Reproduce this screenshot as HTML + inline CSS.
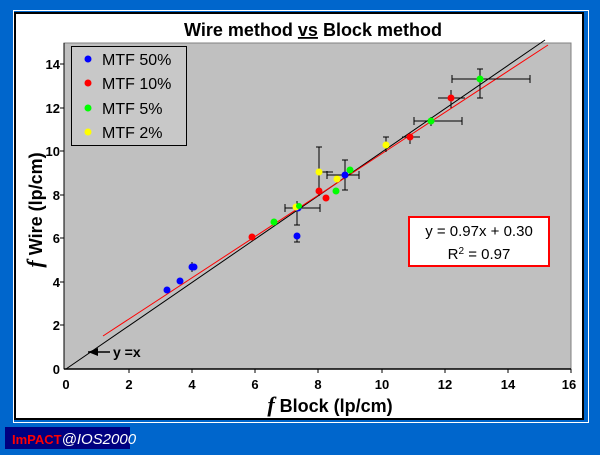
<!DOCTYPE html>
<html><head><style>
body{margin:0;width:600px;height:450px;background:#0066cc;overflow:hidden;font-family:"Liberation Sans",sans-serif}
</style></head><body>
<svg width="600" height="450" xmlns="http://www.w3.org/2000/svg" font-family="Liberation Sans, sans-serif">
<rect x="0" y="0" width="600" height="450" fill="#0066cc"/>
<rect x="13.5" y="10.5" width="575" height="412" fill="none" stroke="#fff" stroke-width="1"/>
<rect x="15" y="13" width="568" height="406" fill="#fff" stroke="#000" stroke-width="2"/>
<text x="313" y="36" text-anchor="middle" font-size="18" font-weight="bold">Wire method  <tspan text-decoration="underline">vs</tspan> Block method</text>
<rect x="64" y="43" width="507" height="326" fill="#c0c0c0" stroke="#808080" stroke-width="1"/>
<line x1="64" y1="369" x2="571" y2="369" stroke="#000" stroke-width="1.5"/>
<line x1="64" y1="43" x2="64" y2="369" stroke="#000" stroke-width="1"/>
<g stroke="#000" stroke-width="1">
<line x1="129" y1="369" x2="129" y2="373"/><line x1="192" y1="369" x2="192" y2="373"/><line x1="255" y1="369" x2="255" y2="373"/><line x1="318" y1="369" x2="318" y2="373"/><line x1="382" y1="369" x2="382" y2="373"/><line x1="445" y1="369" x2="445" y2="373"/><line x1="508" y1="369" x2="508" y2="373"/><line x1="571" y1="369" x2="571" y2="373"/>
<line x1="60" y1="325" x2="64" y2="325"/><line x1="60" y1="282" x2="64" y2="282"/><line x1="60" y1="238" x2="64" y2="238"/><line x1="60" y1="195" x2="64" y2="195"/><line x1="60" y1="151" x2="64" y2="151"/><line x1="60" y1="108" x2="64" y2="108"/><line x1="60" y1="64" x2="64" y2="64"/>
</g>
<g font-size="13" font-weight="bold" text-anchor="middle">
<text x="66" y="389">0</text><text x="129" y="389">2</text><text x="192" y="389">4</text><text x="255" y="389">6</text><text x="318" y="389">8</text><text x="382" y="389">10</text><text x="445" y="389">12</text><text x="508" y="389">14</text><text x="569" y="389">16</text>
</g>
<g font-size="13" font-weight="bold" text-anchor="end">
<text x="60" y="374">0</text><text x="60" y="330">2</text><text x="60" y="287">4</text><text x="60" y="243">6</text><text x="60" y="200">8</text><text x="60" y="156">10</text><text x="60" y="113">12</text><text x="60" y="69">14</text>
</g>
<text x="330" y="412" text-anchor="middle" font-size="18" font-weight="bold"><tspan font-family="Liberation Serif, serif" font-style="italic" font-size="22">f</tspan>  Block (lp/cm)</text>
<text transform="translate(42,210) rotate(-90)" text-anchor="middle" font-size="18" font-weight="bold"><tspan font-family="Liberation Serif, serif" font-style="italic" font-size="22">f</tspan>  Wire (lp/cm)</text>
<line x1="66" y1="369" x2="545" y2="40" stroke="#000" stroke-width="1"/>
<line x1="103" y1="336" x2="548" y2="45" stroke="#ff0000" stroke-width="1"/>
<g stroke="#000" stroke-width="1">
<line x1="452" y1="79" x2="530" y2="79"/><line x1="480" y1="69" x2="480" y2="98"/><line x1="452" y1="75" x2="452" y2="83"/><line x1="530" y1="75" x2="530" y2="83"/><line x1="477" y1="69" x2="483" y2="69"/><line x1="477" y1="98" x2="483" y2="98"/>
<line x1="438" y1="98" x2="465" y2="98"/><line x1="451" y1="90" x2="451" y2="108"/>
<line x1="414" y1="121" x2="462" y2="121"/><line x1="431" y1="117" x2="431" y2="126"/><line x1="414" y1="117" x2="414" y2="125"/><line x1="462" y1="117" x2="462" y2="125"/>
<line x1="402" y1="137" x2="420" y2="137"/><line x1="410" y1="134" x2="410" y2="144"/>
<line x1="386" y1="137" x2="386" y2="152"/><line x1="383" y1="137" x2="389" y2="137"/>
<line x1="319" y1="147" x2="319" y2="196"/><line x1="316" y1="147" x2="322" y2="147"/><line x1="318" y1="172" x2="333" y2="172"/>
<line x1="345" y1="160" x2="345" y2="190"/><line x1="342" y1="160" x2="348" y2="160"/><line x1="342" y1="190" x2="348" y2="190"/><line x1="327" y1="175" x2="359" y2="175"/><line x1="359" y1="171" x2="359" y2="179"/><line x1="327" y1="171" x2="327" y2="179"/>
<line x1="285" y1="208" x2="320" y2="208"/><line x1="297" y1="201" x2="297" y2="225"/><line x1="285" y1="204" x2="285" y2="212"/><line x1="320" y1="204" x2="320" y2="212"/><line x1="294" y1="225" x2="300" y2="225"/>
<line x1="297" y1="233" x2="297" y2="242"/><line x1="294" y1="242" x2="300" y2="242"/>
<line x1="192" y1="262" x2="192" y2="272"/>
</g>
<g>
<circle cx="167" cy="290" r="3.5" fill="#0000ff"/><circle cx="180" cy="281" r="3.5" fill="#0000ff"/><circle cx="192" cy="267" r="3.5" fill="#0000ff"/><circle cx="194" cy="267" r="3.5" fill="#0000ff"/>
<circle cx="252" cy="237" r="3.5" fill="#ff0000"/><circle cx="274" cy="222" r="3.5" fill="#00ff00"/>
<circle cx="297" cy="236" r="3.5" fill="#0000ff"/>
<circle cx="298" cy="208" r="3.5" fill="#0000ff"/><circle cx="296" cy="207" r="3.5" fill="#ffff00"/><circle cx="299" cy="206" r="3" fill="#00ff00"/>
<circle cx="319" cy="191" r="3.5" fill="#ff0000"/><circle cx="326" cy="198" r="3.5" fill="#ff0000"/><circle cx="336" cy="191" r="3.5" fill="#00ff00"/>
<circle cx="337" cy="179" r="3.5" fill="#ffff00"/><circle cx="345" cy="175" r="3.5" fill="#0000ff"/><circle cx="350" cy="170" r="3.5" fill="#00ff00"/>
<circle cx="319" cy="172" r="3.5" fill="#ffff00"/>
<circle cx="386" cy="145" r="3.5" fill="#ffff00"/><circle cx="410" cy="137" r="3.5" fill="#ff0000"/><circle cx="431" cy="121" r="3.5" fill="#00ff00"/>
<circle cx="451" cy="98" r="3.5" fill="#ff0000"/><circle cx="480" cy="79" r="3.5" fill="#00ff00"/>
</g>
<rect x="71.5" y="46.5" width="115" height="99" fill="#c8c8c8" stroke="#000" stroke-width="1"/>
<circle cx="88" cy="59" r="3.5" fill="#0000ff"/><circle cx="88" cy="83" r="3.5" fill="#ff0000"/><circle cx="88" cy="108" r="3.5" fill="#00ff00"/><circle cx="88" cy="132" r="3.5" fill="#ffff00"/>
<g font-size="16"><text x="102" y="65">MTF 50%</text><text x="102" y="89">MTF 10%</text><text x="102" y="114">MTF 5%</text><text x="102" y="138">MTF 2%</text></g>
<rect x="409" y="217" width="140" height="49" fill="#fff" stroke="#ff0000" stroke-width="2"/>
<text x="479" y="236" text-anchor="middle" font-size="15">y = 0.97x + 0.30</text>
<text x="479" y="259" text-anchor="middle" font-size="15">R<tspan baseline-shift="super" font-size="10">2</tspan> = 0.97</text>
<line x1="88" y1="352" x2="110" y2="352" stroke="#000" stroke-width="1.5"/>
<polygon points="88,352 98,348 98,356" fill="#000"/>
<text x="113" y="357" font-size="14" font-weight="bold">y =x</text>
<rect x="5" y="427" width="125" height="22" fill="#000080"/>
<text x="12" y="444" font-size="15" font-style="italic"><tspan fill="#ff0000" font-weight="bold" font-style="normal" font-size="13">ImPACT</tspan><tspan fill="#fff">@IOS2000</tspan></text>
</svg>
</body></html>
